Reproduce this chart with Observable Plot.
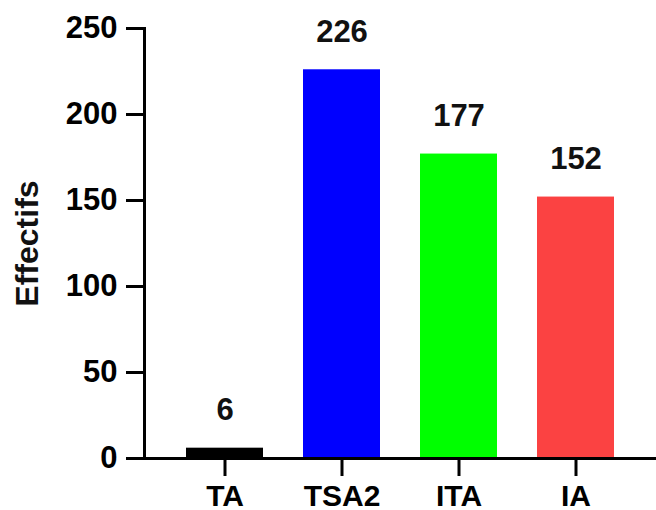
<!DOCTYPE html>
<html><head><meta charset="utf-8">
<script src="https://cdn.jsdelivr.net/npm/d3@7"></script>
<script src="https://cdn.jsdelivr.net/npm/@observablehq/plot@0.6"></script>
<style>body{margin:0;background:#fff}</style>
</head><body><div id="chart"></div>
<script>
const categories = ["TA", "TSA2", "ITA", "IA"];
const values = [6, 226, 177, 152];
const colors = ["#000000", "#0000ff", "#00ff00", "#fb4242"];
const yTicks = [0, 50, 100, 150, 200, 250];
const yTitle = "Effectifs";

const data = categories.map((c, i) => ({cat: c, value: values[i]}));
const font = "'Liberation Sans', Arial, sans-serif";

const chart = Plot.plot({
  width: 656, height: 510,
  marginTop: 28, marginBottom: 52, marginLeft: 144, marginRight: 0,
  style: {fontFamily: font, background: "#fff", color: "#000", overflow: "visible"},
  x: {domain: categories, padding: 0.34},
  y: {domain: [0, 250]},
  color: {domain: categories, range: colors},
  marks: [
    Plot.barY(data, {x: "cat", y: "value", fill: "cat"}),
    Plot.axisY({ticks: yTicks, tickSize: 18, tickPadding: 9, strokeWidth: 3, fontSize: 31, fontWeight: "bold", label: null}),
    Plot.axisX({tickSize: 18, tickPadding: 8, strokeWidth: 3, fontSize: 30, fontWeight: "bold", label: null}),
    Plot.frame({anchor: "left", strokeWidth: 3}),
    Plot.frame({anchor: "bottom", strokeWidth: 3}),
    Plot.text(data, {x: "cat", y: "value", text: d => String(d.value), dy: -38, fontSize: 31, fontWeight: "bold", fill: "#111"}),
    Plot.text([yTitle], {frameAnchor: "left", dx: -117, rotate: -90, textAnchor: "middle", fontSize: 32, fontWeight: "bold", fill: "#111"})
  ]
});
document.getElementById("chart").appendChild(chart);
</script>
</body></html>
